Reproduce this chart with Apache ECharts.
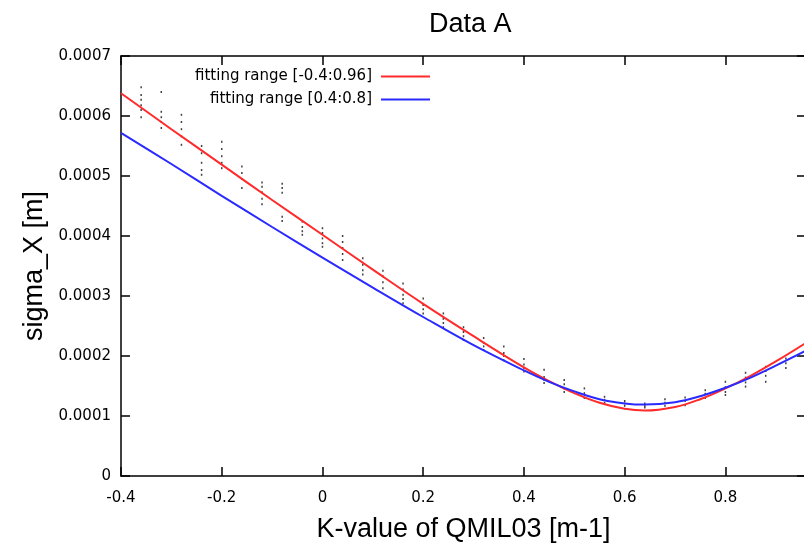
<!DOCTYPE html>
<html>
<head>
<meta charset="utf-8">
<script src="https://cdn.jsdelivr.net/npm/echarts@6/dist/echarts.min.js"></script>
<style>html,body{margin:0;padding:0;background:#fff;}#c{width:804px;height:543px;}</style>
</head>
<body>
<div id="c"></div>
<script>
// ---- data ----
const titleText = 'Data A';
const xName = 'K-value of QMIL03 [m-1]';
const yName = 'sigma_X [m]';
const redName = 'fitting range [-0.4:0.96]';
const blueName = 'fitting range [0.4:0.8]';

const kFit = [-0.4, -0.3, -0.2, -0.1, 0, 0.1, 0.2, 0.3, 0.4, 0.45, 0.5, 0.55, 0.6, 0.64, 0.7, 0.75, 0.8, 0.85, 0.9, 0.96];
const redFit = [0.000638, 0.000578, 0.000519, 0.000460, 0.000402, 0.000344, 0.000287, 0.000233, 0.000181, 0.000158, 0.000138, 0.000122, 0.000112, 0.000109, 0.000115, 0.000128, 0.000146, 0.000167, 0.000191, 0.000222];
const blueFit = [0.000572, 0.000520, 0.000467, 0.000415, 0.000364, 0.000314, 0.000265, 0.000218, 0.000176, 0.000157, 0.000141, 0.000128, 0.000121, 0.000119, 0.000123, 0.000133, 0.000147, 0.000164, 0.000184, 0.000209];

const kMeas = [-0.36, -0.32, -0.28, -0.24, -0.2, -0.16, -0.12, -0.08, -0.04, 0, 0.04, 0.08, 0.12, 0.16, 0.2, 0.24, 0.28, 0.32, 0.36, 0.4, 0.44, 0.48, 0.52, 0.56, 0.6, 0.64, 0.68, 0.72, 0.76, 0.8, 0.84, 0.88, 0.92];
const sigmaMeas = [
  [0.000648, 0.000635, 0.000627, 0.000618, 0.000610, 0.000598],
  [0.000640, 0.000607, 0.000598, 0.000590, 0.000580],
  [0.000602, 0.000590, 0.000578, 0.000566, 0.000552],
  [0.000550, 0.000538, 0.000522, 0.000510, 0.000502],
  [0.000557, 0.000545, 0.000533, 0.000522, 0.000513],
  [0.000516, 0.000505, 0.000495, 0.000480],
  [0.000489, 0.000482, 0.000473, 0.000462, 0.000453],
  [0.000487, 0.000480, 0.000472, 0.000432, 0.000425],
  [0.000424, 0.000415, 0.000408, 0.000402],
  [0.000413, 0.000405, 0.000396, 0.000388, 0.000382],
  [0.000400, 0.000390, 0.000380, 0.000370, 0.000360],
  [0.000363, 0.000352, 0.000343, 0.000336],
  [0.000342, 0.000333, 0.000323, 0.000313],
  [0.000321, 0.000311, 0.000302, 0.000295, 0.000288],
  [0.000296, 0.000285, 0.000278, 0.000271],
  [0.000271, 0.000262, 0.000255, 0.000248],
  [0.000248, 0.000240, 0.000233, 0.000227],
  [0.000230, 0.000222, 0.000216, 0.000210],
  [0.000216, 0.000205, 0.000200, 0.000193],
  [0.000195, 0.000186, 0.000180, 0.000174],
  [0.000177, 0.000165, 0.000160, 0.000155],
  [0.000160, 0.000153, 0.000146, 0.000140],
  [0.000146, 0.000138, 0.000130],
  [0.000132, 0.000127, 0.000122],
  [0.000125, 0.000121, 0.000117],
  [0.000121, 0.000117, 0.000114],
  [0.000128, 0.000122, 0.000117],
  [0.000131, 0.000125, 0.000118],
  [0.000143, 0.000137, 0.000130],
  [0.000157, 0.000148, 0.000140, 0.000135],
  [0.000172, 0.000164, 0.000156, 0.000149],
  [0.000182, 0.000175, 0.000167, 0.000157],
  [0.000196, 0.000188, 0.000180]
];
const xMin = -0.4, xMax = 0.96, xStep = 0.2;
const yMin = 0, yMax = 0.0007, yStep = 0.0001;

// ---- build ----
const redData = kFit.map((k, i) => [k, redFit[i]]);
const blueData = kFit.map((k, i) => [k, blueFit[i]]);
const measData = [];
kMeas.forEach((k, i) => sigmaMeas[i].forEach(v => measData.push([k, v])));

const tickFont = 'DejaVu Sans';
const nameFont = 'Liberation Sans';
const axisLineStyle = { color: '#000', width: 1.5 };
const tickStyle = { show: true, inside: true, length: 9, lineStyle: { color: '#000', width: 1.5 } };
const legendText = { fontFamily: tickFont, fontSize: 15, color: '#000', padding: [0, 4, 0, 0] };

const chart = echarts.init(document.getElementById('c'), null, { renderer: 'canvas' });
chart.setOption({
  animation: false,
  backgroundColor: '#fff',
  title: {
    text: titleText, left: 424, top: 6,
    textStyle: { fontFamily: nameFont, fontSize: 27, fontWeight: 'normal', color: '#000' }
  },
  legend: [
    { data: [redName], orient: 'vertical', right: 369, top: 64, align: 'right', icon: 'rect', itemWidth: 49, itemHeight: 2,
      textStyle: legendText },
    { data: [blueName], orient: 'vertical', right: 369, top: 87, align: 'right', icon: 'rect', itemWidth: 49, itemHeight: 2,
      textStyle: legendText }
  ],
  grid: { left: 121, top: 56, width: 685, height: 420, containLabel: false, outerBoundsMode: 'none' },
  xAxis: [
    { type: 'value', position: 'bottom', min: xMin, max: xMax, interval: xStep,
      name: xName, nameLocation: 'middle', nameGap: 40,
      nameTextStyle: { fontFamily: nameFont, fontSize: 27, color: '#000' },
      axisLine: { show: true, onZero: false, lineStyle: axisLineStyle },
      axisTick: tickStyle,
      axisLabel: { fontFamily: tickFont, fontSize: 15, color: '#000', margin: 15, showMaxLabel: false },
      splitLine: { show: false } },
    { type: 'value', position: 'top', min: xMin, max: xMax, interval: xStep,
      axisLine: { show: true, onZero: false, lineStyle: axisLineStyle },
      axisTick: tickStyle, axisLabel: { show: false }, splitLine: { show: false } }
  ],
  yAxis: [
    { type: 'value', position: 'left', min: yMin, max: yMax, interval: yStep,
      name: yName, nameLocation: 'middle', nameGap: 72,
      nameTextStyle: { fontFamily: nameFont, fontSize: 27, color: '#000' },
      axisLine: { show: true, onZero: false, lineStyle: axisLineStyle },
      axisTick: tickStyle,
      axisLabel: { fontFamily: tickFont, fontSize: 15, color: '#000', margin: 10,
        formatter: v => (v === 0 ? '0' : v.toFixed(4)) },
      splitLine: { show: false } },
    { type: 'value', position: 'right', min: yMin, max: yMax, interval: yStep,
      axisLine: { show: true, onZero: false, lineStyle: axisLineStyle },
      axisTick: tickStyle, axisLabel: { show: false }, splitLine: { show: false } }
  ],
  series: [
    { type: 'scatter', name: 'data', data: measData, symbol: 'rect', symbolSize: [1.5, 2],
      itemStyle: { color: '#111' }, z: 3, silent: true },
    { type: 'line', name: redName, data: redData, smooth: 0.4, showSymbol: false, symbol: 'none',
      lineStyle: { color: '#ff2a2a', width: 2 }, itemStyle: { color: '#ff2a2a' }, z: 4 },
    { type: 'line', name: blueName, data: blueData, smooth: 0.4, showSymbol: false, symbol: 'none',
      lineStyle: { color: '#2a2aff', width: 2 }, itemStyle: { color: '#2a2aff' }, z: 5 }
  ]
});
</script>
</body>
</html>
